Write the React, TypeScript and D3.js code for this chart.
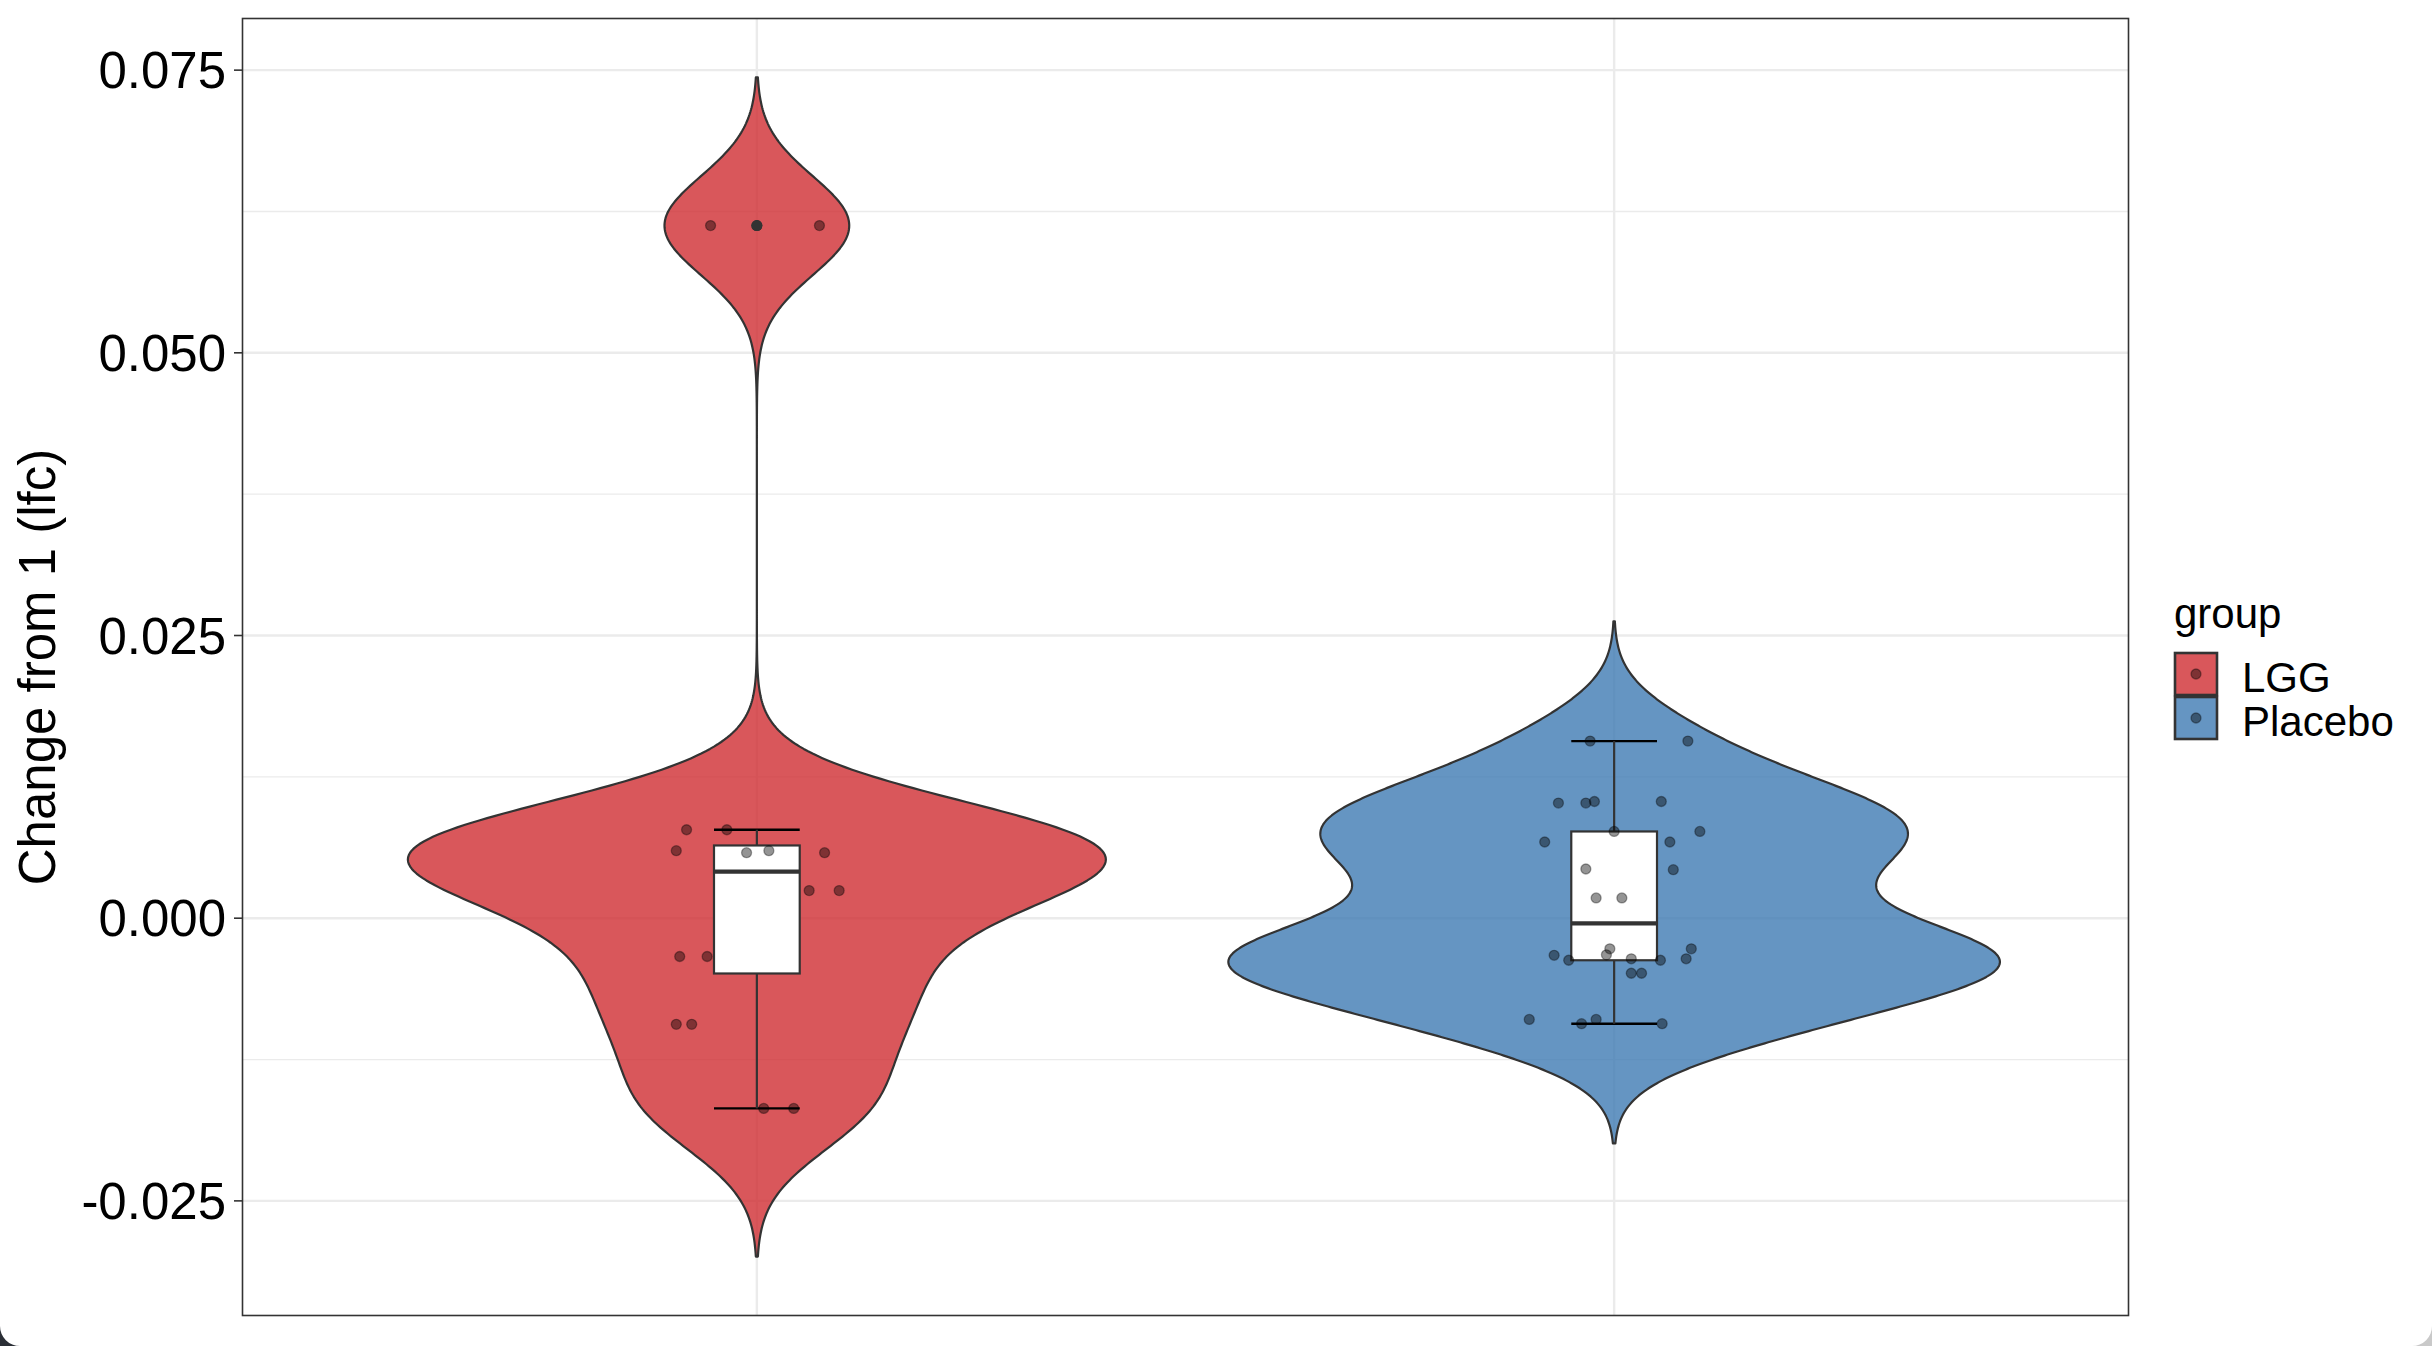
import React, { useEffect, useRef } from 'react';
import * as d3 from 'd3';

// groups and the observed values (jitter offsets are in category units)
const groups = ['LGG', 'Placebo'];
const lggValues = [0.06125, 0.06125, 0.00782, 0.00782, 0.00597, 0.00597, 0.00579, 0.00579, 0.00244, 0.00244, -0.00339, -0.00339, -0.00939, -0.00939, -0.01682, -0.01682];
const lggJitter = [-0.054, 0.073, -0.082, -0.035, -0.094, 0.014, -0.012, 0.079, 0.061, 0.096, -0.09, -0.058, -0.094, -0.076, 0.008, 0.043];
const placeboValues = [0.01566, 0.01566, 0.01018, 0.01018, 0.01032, 0.01032, 0.00767, 0.00767, 0.00674, 0.00674, 0.00435, 0.00429, 0.00179, 0.00179, -0.00271, -0.00271, -0.00324, -0.00328, -0.00359, -0.00359, -0.00372, -0.00372, -0.00487, -0.00487, -0.00895, -0.00895, -0.00933, -0.00933];
const placeboJitter = [-0.028, 0.086, -0.065, -0.033, -0.023, 0.055, 0.1, 0, -0.081, 0.065, -0.033, 0.069, -0.021, 0.009, -0.005, 0.09, -0.009, -0.07, 0.02, 0.084, -0.053, 0.054, 0.02, 0.032, -0.099, -0.021, -0.038, 0.056];
const yTicks = [-0.025, 0, 0.025, 0.05, 0.075];
const yMinorTicks = [-0.0125, 0.0125, 0.0375, 0.0625];

const fills = ['#cf2d32', '#3e7bb3'];
const W = 2432, H = 1346;
const panel = { left: 242.5, right: 2128.5, top: 18.5, bottom: 1315.5 };
const font = "'Liberation Sans', Arial, Helvetica, sans-serif";

const gauss = (z: number) => Math.exp(-0.5 * z * z) / Math.sqrt(2 * Math.PI);

const App = () => {
    const svgRef = useRef<SVGSVGElement>(null);

    useEffect(() => {
        const svg = d3.select(svgRef.current);
        svg.selectAll('*').remove();

        const raw = [
            { name: groups[0], values: lggValues, jitter: lggJitter, fill: fills[0] },
            { name: groups[1], values: placeboValues, jitter: placeboJitter, fill: fills[1] },
        ];

        // boxplot stats + violin density (gaussian, bw.nrd0, trim = FALSE)
        const series = raw.map(s => {
            const sorted = [...s.values].sort(d3.ascending);
            const n = sorted.length;
            const q1 = d3.quantile(sorted, 0.25)!;
            const med = d3.quantile(sorted, 0.5)!;
            const q3 = d3.quantile(sorted, 0.75)!;
            const iqr = q3 - q1;
            const bw = 0.9 * Math.min(d3.deviation(sorted)!, iqr / 1.34) * Math.pow(n, -0.2);
            const lo = sorted[0] - 3 * bw, hi = sorted[n - 1] + 3 * bw;
            const grid = d3.range(512).map(i => lo + (hi - lo) * i / 511);
            const dens = grid.map(y => ({ y, d: d3.sum(sorted, v => gauss((y - v) / bw)) / (n * bw) }));
            const wLo = d3.min(sorted.filter(v => v >= q1 - 1.5 * iqr))!;
            const wHi = d3.max(sorted.filter(v => v <= q3 + 1.5 * iqr))!;
            const outliers = sorted.filter(v => v < wLo || v > wHi);
            return { ...s, q1, med, q3, lo, hi, dens, wLo, wHi, outliers };
        });

        const maxD = d3.max(series, s => d3.max(s.dens, p => p.d))!;
        const yLo = d3.min(series, s => s.lo)!, yHi = d3.max(series, s => s.hi)!;
        const pad = (yHi - yLo) * 0.05;

        const x = d3.scalePoint<string>().domain(groups).range([panel.left, panel.right]).padding(0.6);
        const step = x.step();
        const y = d3.scaleLinear().domain([yLo - pad, yHi + pad]).range([panel.bottom, panel.top]);

        // screenshot corners
        const r = 20;
        svg.append('path').attr('d', `M0,${H - r}L0,${H}L${r},${H}A${r},${r} 0 0 1 0,${H - r}Z`).attr('fill', '#2b2f36');
        svg.append('path').attr('d', `M${W},${H - r}L${W},${H}L${W - r},${H}A${r},${r} 0 0 0 ${W},${H - r}Z`).attr('fill', '#c9c9c9');

        const g = svg.append('g');

        // grid
        g.selectAll('.minor').data(yMinorTicks).join('line')
            .attr('x1', panel.left).attr('x2', panel.right)
            .attr('y1', d => y(d)).attr('y2', d => y(d))
            .attr('stroke', '#ebebeb').attr('stroke-width', 1.3);
        g.selectAll('.major').data(yTicks).join('line')
            .attr('x1', panel.left).attr('x2', panel.right)
            .attr('y1', d => y(d)).attr('y2', d => y(d))
            .attr('stroke', '#ebebeb').attr('stroke-width', 2.4);
        g.selectAll('.vmajor').data(groups).join('line')
            .attr('x1', d => x(d)!).attr('x2', d => x(d)!)
            .attr('y1', panel.top).attr('y2', panel.bottom)
            .attr('stroke', '#ebebeb').attr('stroke-width', 2.4);

        // violins
        series.forEach(s => {
            const cx = x(s.name)!;
            const hw = (d: number) => d / maxD * 0.45 * step;
            const pts: [number, number][] = [
                ...s.dens.map(p => [cx + hw(p.d), y(p.y)] as [number, number]),
                ...s.dens.slice().reverse().map(p => [cx - hw(p.d), y(p.y)] as [number, number]),
            ];
            g.append('path')
                .attr('d', d3.line()(pts) + 'Z')
                .attr('fill', s.fill).attr('fill-opacity', 0.8)
                .attr('stroke', '#333').attr('stroke-width', 2.2).attr('stroke-linejoin', 'round');
        });

        // error bars + boxes
        const bw = 0.1 * step;
        series.forEach(s => {
            const cx = x(s.name)!;
            [s.wLo, s.wHi].forEach(v => {
                g.append('line').attr('x1', cx - bw / 2).attr('x2', cx + bw / 2)
                    .attr('y1', y(v)).attr('y2', y(v)).attr('stroke', '#000').attr('stroke-width', 2.4);
            });
            g.append('line').attr('x1', cx).attr('x2', cx).attr('y1', y(s.wHi)).attr('y2', y(s.q3))
                .attr('stroke', '#333').attr('stroke-width', 2.2);
            g.append('line').attr('x1', cx).attr('x2', cx).attr('y1', y(s.q1)).attr('y2', y(s.wLo))
                .attr('stroke', '#333').attr('stroke-width', 2.2);
            g.append('rect').attr('x', cx - bw / 2).attr('width', bw)
                .attr('y', y(s.q3)).attr('height', y(s.q1) - y(s.q3))
                .attr('fill', '#fff').attr('stroke', '#333').attr('stroke-width', 2.2);
            g.append('line').attr('x1', cx - bw / 2).attr('x2', cx + bw / 2)
                .attr('y1', y(s.med)).attr('y2', y(s.med)).attr('stroke', '#333').attr('stroke-width', 4.4);
            g.selectAll(null).data(s.outliers).join('circle')
                .attr('cx', cx).attr('cy', d => y(d)).attr('r', 5.5).attr('fill', '#333');
        });

        // jittered points
        series.forEach(s => {
            const cx = x(s.name)!;
            g.selectAll(null).data(s.values).join('circle')
                .attr('cx', (d, i) => cx + s.jitter[i] * step)
                .attr('cy', d => y(d))
                .attr('r', 5)
                .attr('fill', '#000').attr('fill-opacity', 0.42)
                .attr('stroke', '#000').attr('stroke-opacity', 0.35).attr('stroke-width', 1.3);
        });

        // panel border
        g.append('rect').attr('x', panel.left).attr('y', panel.top)
            .attr('width', panel.right - panel.left).attr('height', panel.bottom - panel.top)
            .attr('fill', 'none').attr('stroke', '#333').attr('stroke-width', 1.6);

        // y axis
        g.selectAll('.tick').data(yTicks).join('line')
            .attr('x1', panel.left - 8.5).attr('x2', panel.left)
            .attr('y1', d => y(d)).attr('y2', d => y(d))
            .attr('stroke', '#333').attr('stroke-width', 1.6);
        g.selectAll('.tlabel').data(yTicks).join('text')
            .attr('x', 226).attr('y', d => y(d) + 18)
            .attr('text-anchor', 'end')
            .style('font-family', font).style('font-size', '51px').attr('fill', '#000')
            .text(d => d3.format('.3f')(d).replace('−', '-'));
        g.append('text')
            .attr('transform', `translate(55,${(panel.top + panel.bottom) / 2}) rotate(-90)`)
            .attr('text-anchor', 'middle')
            .style('font-family', font).style('font-size', '51px').attr('fill', '#000')
            .text('Change from 1 (lfc)');

        // legend
        const lg = svg.append('g').attr('transform', 'translate(2174,0)');
        lg.append('text').attr('x', 0).attr('y', 628)
            .style('font-family', font).style('font-size', '42px').attr('fill', '#000').text('group');
        series.forEach((s, i) => {
            const top = 653 + i * 44;
            lg.append('rect').attr('x', 1).attr('y', top).attr('width', 42).attr('height', 42)
                .attr('fill', s.fill).attr('fill-opacity', 0.8)
                .attr('stroke', '#333').attr('stroke-width', 2.6);
            lg.append('circle').attr('cx', 22).attr('cy', top + 21).attr('r', 5)
                .attr('fill', '#000').attr('fill-opacity', 0.42)
                .attr('stroke', '#000').attr('stroke-opacity', 0.35).attr('stroke-width', 1.3);
            lg.append('text').attr('x', 68).attr('y', top + 38.5)
                .style('font-family', font).style('font-size', '42px').attr('fill', '#000').text(s.name);
        });
    }, []);

    return (
        <div style={{ position: 'fixed', left: 0, top: 0 }}>
            <svg ref={svgRef} width={W} height={H} style={{ display: 'block', background: '#fff' }}></svg>
        </div>
    );
};

export default App;
